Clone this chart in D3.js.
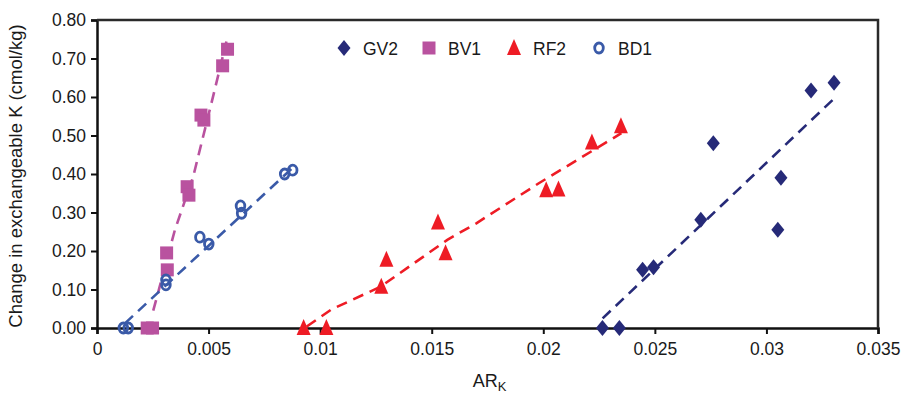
<!DOCTYPE html>
<html>
<head>
<meta charset="utf-8">
<script src="https://cdn.jsdelivr.net/npm/d3@7"></script>
<style>
  body { margin: 0; background: #fff; }
  svg { display: block; font-family: "Liberation Sans", Arial, Helvetica, sans-serif; }
</style>
</head>
<body>
<div id="chart"></div>
<script>
"use strict";

// series values (AR_K, change in exch. K)
const seriesNames = ["GV2", "BV1", "RF2", "BD1"];
const seriesColors = ["#262a78", "#b9529f", "#ee1c25", "#3a5aa8"];

const gv2X = [0.02265, 0.02341, 0.02445, 0.02494, 0.02706, 0.02762, 0.03065, 0.03051, 0.0320, 0.03303];
const gv2Y = [0, 0, 0.151, 0.158, 0.281, 0.480, 0.390, 0.255, 0.617, 0.637];

const bv1X = [0.00225, 0.00249, 0.00312, 0.00315, 0.00404, 0.00412, 0.00466, 0.00479, 0.00563, 0.00585];
const bv1Y = [0, 0, 0.195, 0.151, 0.367, 0.345, 0.553, 0.540, 0.681, 0.724];

const rf2X = [0.00926, 0.01028, 0.01274, 0.01297, 0.01528, 0.01562, 0.02013, 0.02068, 0.02218, 0.02348];
const rf2Y = [0, 0, 0.107, 0.177, 0.274, 0.194, 0.358, 0.360, 0.482, 0.524];

const bd1X = [0.00118, 0.0014, 0.00309, 0.00309, 0.00461, 0.00501, 0.00643, 0.00648, 0.00841, 0.00877];
const bd1Y = [0, 0, 0.125, 0.112, 0.236, 0.218, 0.317, 0.298, 0.400, 0.410];

// dashed trend lines, as drawn
const gv2Trend = [[0.02266, 0.025], [0.03296, 0.592]];
const bv1Trend = [[0.00252, 0.045], [0.00349, 0.2545], [0.00431, 0.393], [0.0052, 0.601], [0.0058, 0.744]];
const rf2Trend = [[0.0094, 0.004], [0.0105, 0.048], [0.0127, 0.107], [0.0157, 0.229], [0.0170, 0.272], [0.0198, 0.376], [0.0235, 0.506]];
const bd1Trend = [[0.00125, 0.012], [0.0088, 0.418]];

const xTicks = [0, 0.005, 0.01, 0.015, 0.02, 0.025, 0.03, 0.035];
const xTickLabels = ["0", "0.005", "0.01", "0.015", "0.02", "0.025", "0.03", "0.035"];
const yTicks = [0, 0.1, 0.2, 0.3, 0.4, 0.5, 0.6, 0.7, 0.8];

const W = 902, H = 397;
const margin = { top: 20, right: 24, bottom: 69, left: 97 };
const innerW = W - margin.left - margin.right;
const innerH = H - margin.top - margin.bottom;

const svg = d3.select("#chart").append("svg")
    .attr("width", W)
    .attr("height", H)
    .attr("viewBox", `0 0 ${W} ${H}`);

const g = svg.append("g").attr("transform", `translate(${margin.left},${margin.top})`);

const x = d3.scaleLinear().domain([0, 0.035]).range([0, innerW]);
const y = d3.scaleLinear().domain([0, 0.8]).range([innerH, 0]);

// marker shapes (pixel sizes)
function markerPath(kind) {
    const p = d3.path();
    if (kind === 0) { // diamond
        p.moveTo(0, -8); p.lineTo(6.5, 0); p.lineTo(0, 8); p.lineTo(-6.5, 0); p.closePath();
    } else if (kind === 1) { // square
        p.rect(-6.5, -6.5, 13, 13);
    } else if (kind === 2) { // triangle
        p.moveTo(0, -9); p.lineTo(7, 7); p.lineTo(-7, 7); p.closePath();
    }
    return p.toString();
}

function drawMarker(sel, kind, color) {
    if (kind === 3) {
        sel.append("ellipse")
            .attr("rx", 4.3).attr("ry", 5)
            .attr("fill", "none")
            .attr("stroke", color)
            .attr("stroke-width", 2.8);
    } else {
        sel.append("path")
            .attr("d", markerPath(kind))
            .attr("fill", color);
    }
}

const series = [
    { xs: gv2X, ys: gv2Y, trend: gv2Trend },
    { xs: bv1X, ys: bv1Y, trend: bv1Trend },
    { xs: rf2X, ys: rf2Y, trend: rf2Trend },
    { xs: bd1X, ys: bd1Y, trend: bd1Trend }
];

// axes
const xAxis = g.append("g")
    .attr("transform", `translate(0,${innerH})`)
    .call(d3.axisBottom(x).tickValues(xTicks).tickFormat((d, i) => xTickLabels[i]).tickSizeOuter(0).tickSize(6).tickPadding(9));
const yAxis = g.append("g")
    .call(d3.axisLeft(y).tickValues(yTicks).tickFormat(d3.format(".2f")).tickSizeOuter(0).tickSize(6).tickPadding(5));

[xAxis, yAxis].forEach(a => {
    a.select(".domain").attr("stroke", "#111").attr("stroke-width", 2.5);
    a.selectAll(".tick line").attr("stroke", "#111").attr("stroke-width", 2);
    a.selectAll(".tick text").attr("fill", "#1a1a1a").style("font-size", "17.5px");
});

// frame top/right
g.append("path")
    .attr("d", `M0,0H${innerW}V${innerH}`)
    .attr("fill", "none")
    .attr("stroke", "#2a2a2a")
    .attr("stroke-width", 2.5);

// trend lines
const line = d3.line().x(d => x(d[0])).y(d => y(d[1]));
series.forEach((s, i) => {
    g.append("path")
        .attr("d", line(s.trend))
        .attr("fill", "none")
        .attr("stroke", seriesColors[i])
        .attr("stroke-width", 2.6)
        .attr("stroke-dasharray", "11,7");
});

// points
series.forEach((s, i) => {
    const pts = g.append("g").selectAll("g")
        .data(s.xs.map((v, j) => [v, s.ys[j]]))
        .join("g")
        .attr("transform", d => `translate(${x(d[0])},${y(d[1])})`);
    drawMarker(pts, i, seriesColors[i]);
});

// legend
const legend = svg.append("g").attr("transform", "translate(344,48)");
seriesNames.forEach((name, i) => {
    const item = legend.append("g").attr("transform", `translate(${i * 85},0)`);
    drawMarker(item, i, seriesColors[i]);
    item.append("text")
        .attr("x", 19)
        .attr("y", 6.5)
        .style("font-size", "17.5px")
        .attr("fill", "#1a1a1a")
        .text(name);
});

// axis titles
svg.append("text")
    .attr("transform", `translate(22,${margin.top + innerH / 2 + 2}) rotate(-90)`)
    .attr("text-anchor", "middle")
    .style("font-size", "18.5px")
    .attr("fill", "#1a1a1a")
    .text("Change in exchangeable K (cmol/kg)");

const xt = svg.append("text")
    .attr("x", margin.left + innerW / 2 + 2)
    .attr("y", 387)
    .attr("text-anchor", "middle")
    .style("font-size", "18px")
    .attr("fill", "#1a1a1a");
xt.append("tspan").text("AR");
xt.append("tspan").attr("dy", 4).style("font-size", "13px").text("K");
</script>
</body>
</html>
